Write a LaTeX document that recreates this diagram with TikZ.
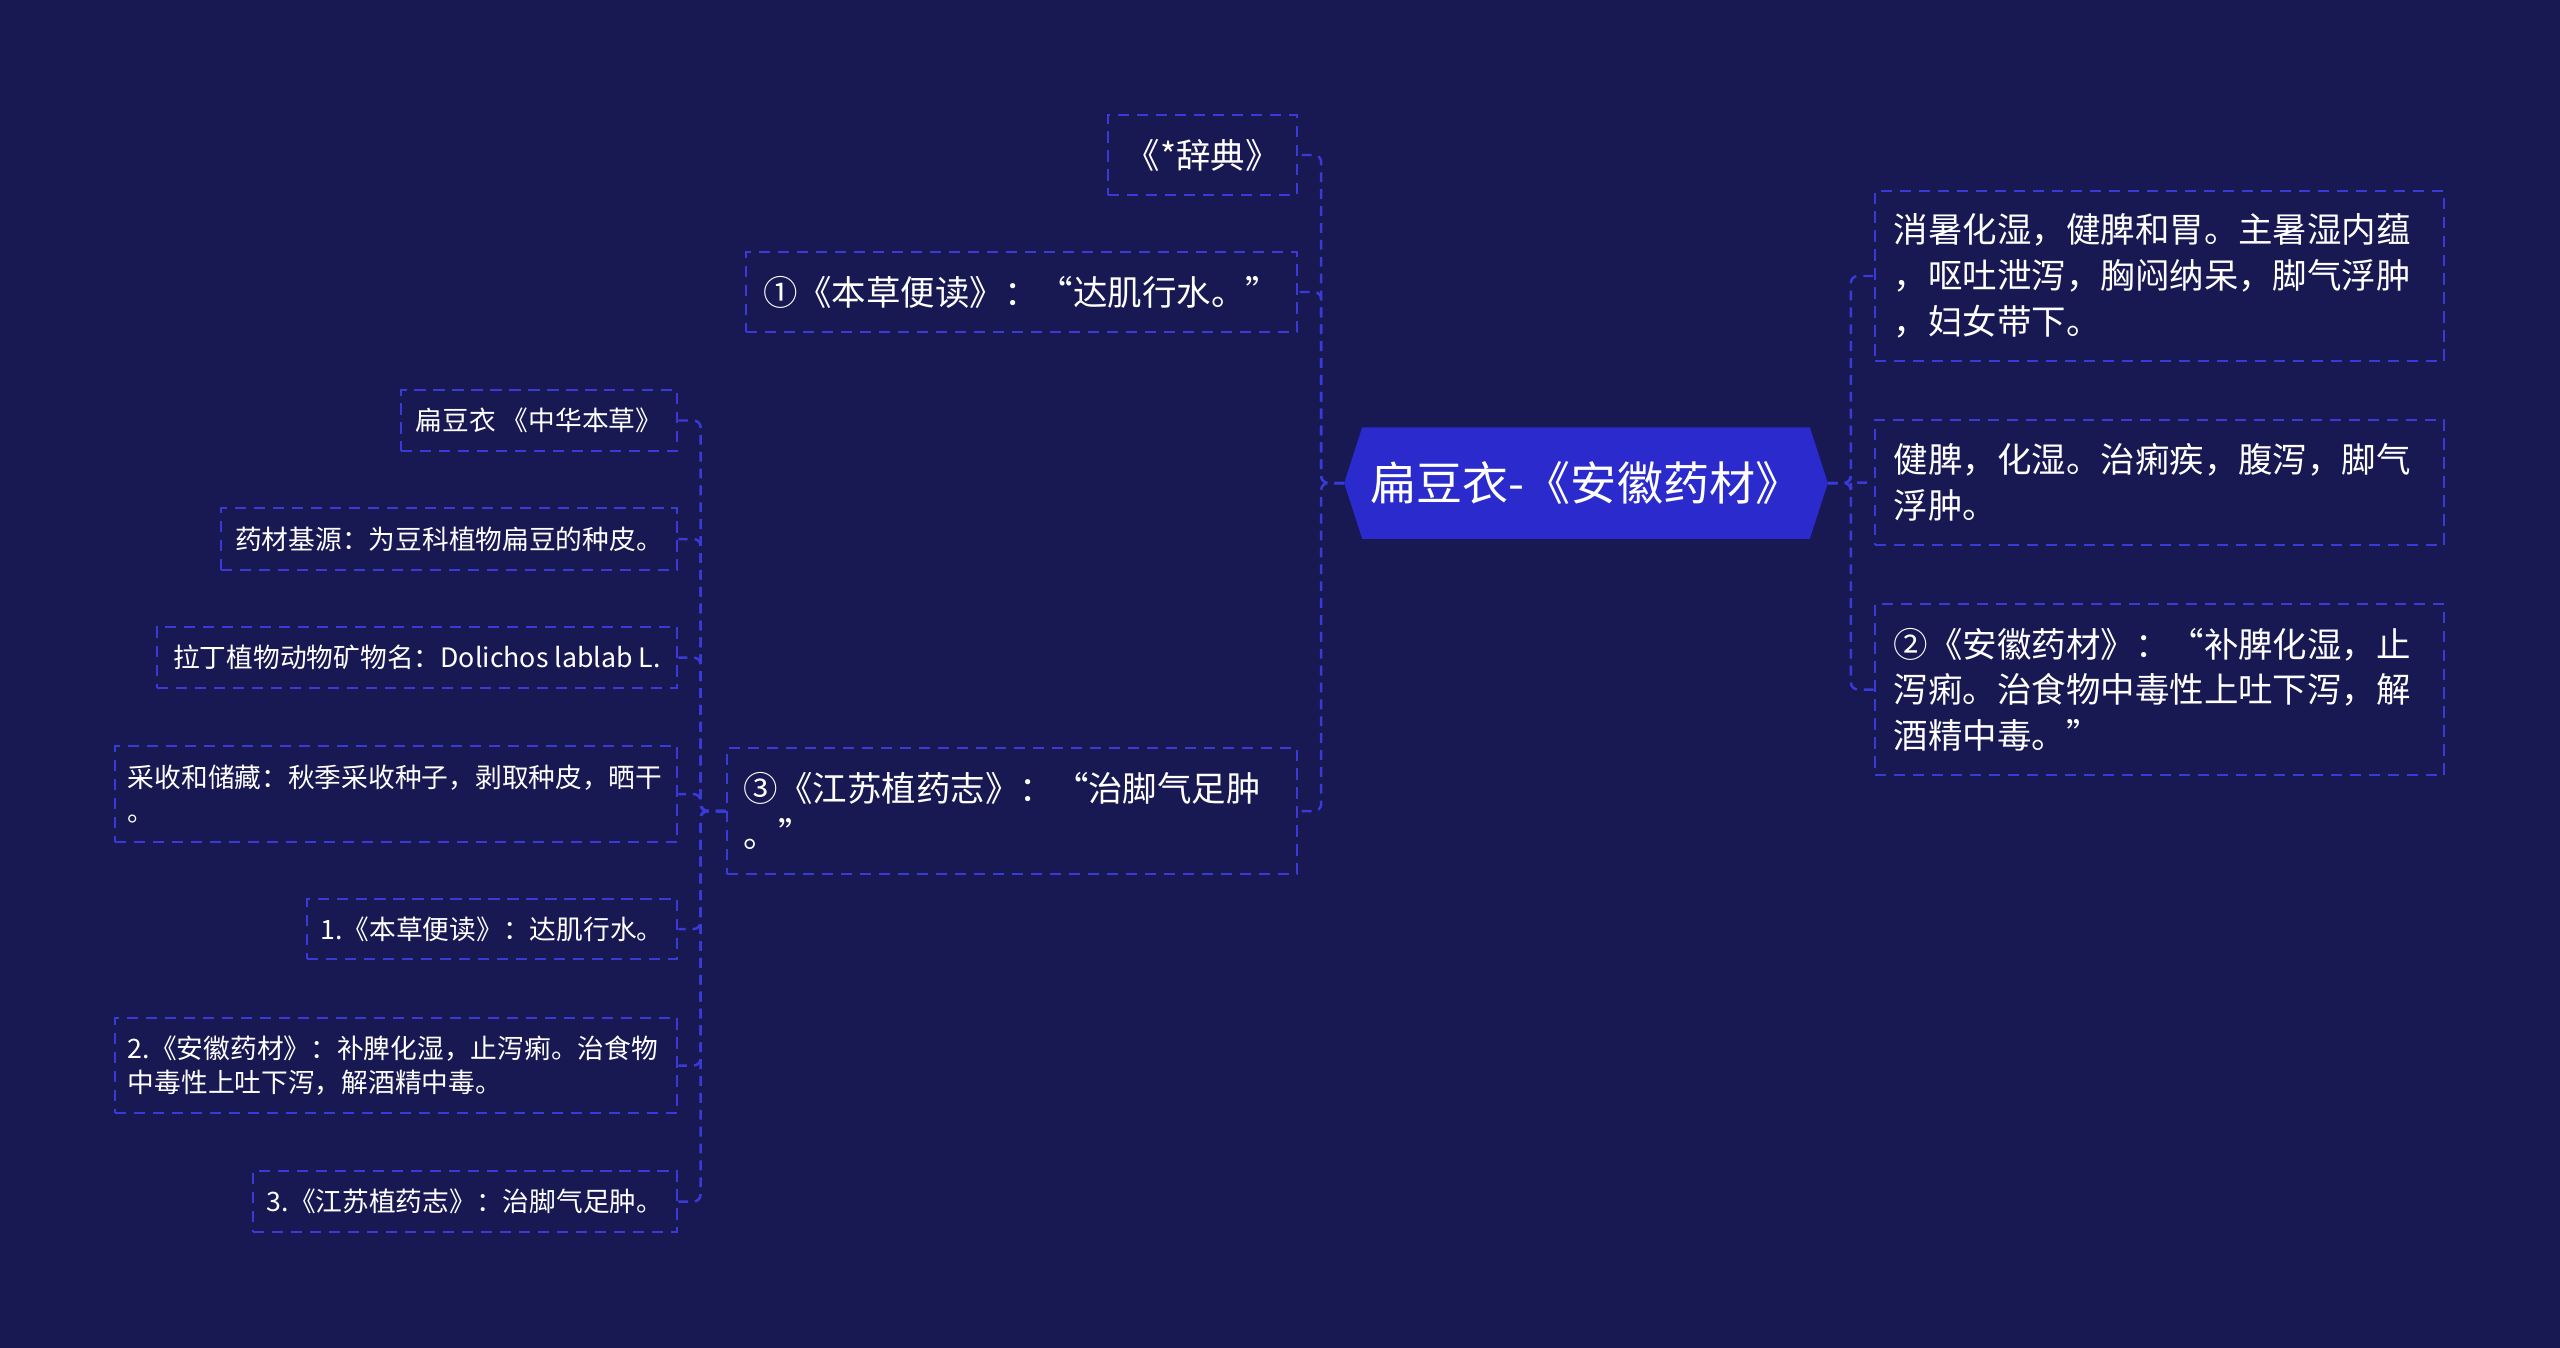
\documentclass[tikz,border=0pt]{standalone}
\usepackage{fontspec}
\setmainfont{Noto Sans CJK SC}
\usetikzlibrary{backgrounds}

\definecolor{bgnavy}{RGB}{24,24,82}
\definecolor{hexblue}{RGB}{43,43,205}
\definecolor{dashblue}{RGB}{58,58,215}

\tikzset{
  box/.style={draw=dashblue, line width=0.7pt, dash pattern=on 3.2pt off 2.2pt, text=white, inner sep=0pt},
  bigbox/.style={box, font=\fontsize{9.8pt}{13pt}\selectfont},
  smallbox/.style={box, font=\fontsize{7.6pt}{9.9pt}\selectfont},
  link/.style={draw=dashblue, line width=0.7pt, dash pattern=on 2.8pt off 2pt, rounded corners=2pt},
}

\begin{document}
\begin{tikzpicture}[x=0.01cm, y=-0.01cm]
\useasboundingbox (0,0) rectangle (2560,1347);

% centre
\node[text=white, font=\fontsize{13.1pt}{15pt}\selectfont, minimum width=4.82cm, minimum height=1.1cm, inner sep=0pt] (root) at (1586,483) {扁豆衣-《安徽药材》};

% right side
\node[bigbox, minimum width=5.69cm, minimum height=1.7cm, text width=5.31cm, align=left] (r1) at (2159.5,276)
  {消暑化湿，健脾和胃。主暑湿内蕴\\，呕吐泄泻，胸闷纳呆，脚气浮肿\\，妇女带下。};
\node[bigbox, minimum width=5.69cm, minimum height=1.25cm, text width=5.31cm, align=left] (r2) at (2159.5,482.5)
  {健脾，化湿。治痢疾，腹泻，脚气\\浮肿。};
\node[bigbox, minimum width=5.69cm, minimum height=1.71cm, text width=5.31cm, align=left] (r3) at (2159.5,689.5)
  {②《安徽药材》：“补脾化湿，止\\泻痢。治食物中毒性上吐下泻，解\\酒精中毒。”};

% left side
\node[bigbox, minimum width=1.89cm, minimum height=0.8cm] (l1) at (1202.5,155) {《*辞典》};
\node[bigbox, minimum width=5.51cm, minimum height=0.8cm] (l2) at (1021.5,292) {①《本草便读》：“达肌行水。”};
\node[bigbox, minimum width=5.70cm, minimum height=1.26cm, text width=5.36cm, align=left] (l3) at (1012,811)
  {③《江苏植药志》：“治脚气足肿\\。”};

% children of l3
\node[smallbox, minimum width=2.76cm, minimum height=0.61cm] (c1) at (539,420.5) {扁豆衣 《中华本草》};
\node[smallbox, minimum width=4.56cm, minimum height=0.62cm] (c2) at (449,539) {药材基源：为豆科植物扁豆的种皮。};
\node[smallbox, minimum width=5.20cm, minimum height=0.61cm] (c3) at (417,657.5) {拉丁植物动物矿物名：Dolichos lablab L.};
\node[smallbox, minimum width=5.62cm, minimum height=0.96cm, text width=5.36cm, align=left] (c4) at (396,794)
  {采收和储藏：秋季采收种子，剥取种皮，晒干\\。};
\node[smallbox, minimum width=3.70cm, minimum height=0.60cm] (c5) at (492,929) {1.《本草便读》：达肌行水。};
\node[smallbox, minimum width=5.62cm, minimum height=0.95cm, text width=5.36cm, align=left] (c6) at (396,1065.5)
  {2.《安徽药材》：补脾化湿，止泻痢。治食物\\中毒性上吐下泻，解酒精中毒。};
\node[smallbox, minimum width=4.24cm, minimum height=0.61cm] (c7) at (465,1201.5) {3.《江苏植药志》：治脚气足肿。};

% background and hexagon
\begin{scope}[on background layer]
\fill[bgnavy] (-20,-20) rectangle (2580,1367);
\fill[hexblue] ([xshift=0.18cm]root.north west) -- ([xshift=-0.18cm]root.north east) -- (root.east)
  -- ([xshift=-0.18cm]root.south east) -- ([xshift=0.18cm]root.south west) -- (root.west) -- cycle;
\end{scope}

% connectors
\foreach \n in {r1,r2,r3}
  \draw[link] (root.east) -- ++(23,0) |- (\n.west);
\foreach \n in {l1,l2,l3}
  \draw[link] (root.west) -- ++(-23,0) |- (\n.east);
\foreach \n in {c1,c2,c3,c4,c5,c6,c7}
  \draw[link] (l3.west) -- ++(-25,0) |- (\n.east);
\end{tikzpicture}
\end{document}
